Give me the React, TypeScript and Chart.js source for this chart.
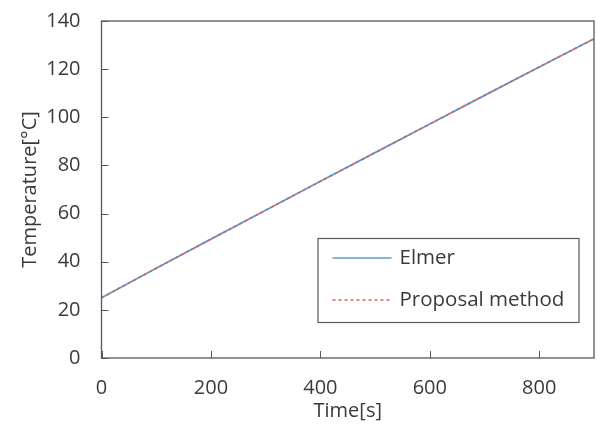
import React, { useEffect, useRef } from "react";
import { Chart, registerables } from "chart.js";

Chart.register(...registerables);

// Heating curve: time in seconds, temperature in °C
const timeSteps = [0, 100, 200, 300, 400, 500, 600, 700, 800, 900];
const elmerTemps = [25.0, 37.3, 49.4, 61.4, 73.4, 85.3, 97.2, 109.1, 120.9, 132.6];
const proposalTemps = [25.0, 37.3, 49.4, 61.4, 73.4, 85.3, 97.2, 109.1, 120.9, 132.6];
const seriesNames = ["Elmer", "Proposal method"];
const xTicks = [0, 200, 400, 600, 800];
const yTicks = [0, 20, 40, 60, 80, 100, 120, 140];

const FONT = "'Open Sans', Lato, sans-serif";
const TEXT = "#3a3a3a";
const AXIS = "#595959";

// Draws the inward tick marks, the closing frame and the boxed legend inside the plot
const frameAndLegend = {
  id: "frameAndLegend",
  afterDraw(chart: any) {
    const { ctx, chartArea: a, scales } = chart;
    ctx.save();
    ctx.strokeStyle = AXIS;
    ctx.lineWidth = 1.3;
    ctx.strokeRect(a.left, a.top, a.right - a.left, a.bottom - a.top);
    ctx.lineWidth = 1;
    ctx.beginPath();
    xTicks.forEach((v) => {
      const px = Math.round(scales.x.getPixelForValue(v)) + 0.5;
      ctx.moveTo(px, a.bottom);
      ctx.lineTo(px, a.bottom - 7);
    });
    yTicks.forEach((v) => {
      const py = Math.round(scales.y.getPixelForValue(v)) + 0.5;
      ctx.moveTo(a.left, py);
      ctx.lineTo(a.left + 7, py);
    });
    ctx.stroke();

    // legend box
    const bx = a.left + 216;
    const by = a.top + 217;
    const bw = 261;
    const bh = 84;
    ctx.fillStyle = "#ffffff";
    ctx.fillRect(bx, by, bw, bh);
    ctx.strokeStyle = AXIS;
    ctx.lineWidth = 1.2;
    ctx.strokeRect(bx + 0.5, by + 0.5, bw, bh);
    ctx.font = `20.5px ${FONT}`;
    ctx.textBaseline = "middle";
    chart.data.datasets.forEach((ds: any, i: number) => {
      const cy = by + 20 + i * 42;
      ctx.beginPath();
      ctx.strokeStyle = ds.borderColor;
      ctx.lineWidth = 1.5;
      ctx.setLineDash(ds.borderDash || []);
      ctx.moveTo(bx + 15, cy);
      ctx.lineTo(bx + 74, cy);
      ctx.stroke();
      ctx.setLineDash([]);
      ctx.fillStyle = TEXT;
      ctx.fillText(ds.label, bx + 82, cy);
    });
    ctx.restore();
  },
};

export default function App() {
  const canvasRef = useRef<HTMLCanvasElement | null>(null);

  useEffect(() => {
    if (!canvasRef.current) return;
    const chart = new Chart(canvasRef.current, {
      type: "line",
      data: {
        datasets: [
          {
            label: seriesNames[0],
            data: timeSteps.map((t, i) => ({ x: t, y: elmerTemps[i] })),
            borderColor: "#5b9bd5",
            borderWidth: 1.8,
            pointRadius: 0,
            tension: 0,
            order: 1,
          },
          {
            label: seriesNames[1],
            data: timeSteps.map((t, i) => ({ x: t, y: proposalTemps[i] })),
            borderColor: "#d9615c",
            borderWidth: 1.6,
            borderDash: [3, 3],
            pointRadius: 0,
            tension: 0,
            order: 0,
          },
        ],
      },
      options: {
        animation: false,
        responsive: true,
        maintainAspectRatio: false,
        layout: { padding: { left: 0, right: 3, top: 21, bottom: 0 } },
        plugins: { legend: { display: false }, tooltip: { enabled: false } },
        scales: {
          x: {
            type: "linear",
            min: 0,
            max: 900,
            afterBuildTicks: (s: any) => {
              s.ticks = xTicks.map((v) => ({ value: v }));
            },
            afterFit: (s: any) => {
              s.height = 73;
              s.paddingLeft = 0;
              s.paddingRight = 0;
            },
            grid: { display: false, drawTicks: false },
            border: { display: false },
            ticks: {
              color: TEXT,
              padding: 18,
              font: { family: FONT, size: 20 },
            },
            title: {
              display: true,
              text: "Time[s]",
              color: TEXT,
              font: { family: FONT, size: 20 },
              padding: { top: 0, bottom: 8 },
            },
          },
          y: {
            type: "linear",
            min: 0,
            max: 140,
            afterBuildTicks: (s: any) => {
              s.ticks = yTicks.map((v) => ({ value: v }));
            },
            afterFit: (s: any) => {
              s.width = 101.5;
              s.paddingTop = 0;
              s.paddingBottom = 0;
            },
            grid: { display: false, drawTicks: false },
            border: { display: false },
            ticks: {
              color: TEXT,
              padding: 21,
              font: { family: FONT, size: 20 },
            },
            title: {
              display: true,
              text: "Temperature[°C]",
              color: TEXT,
              font: { family: FONT, size: 20 },
              padding: { top: 18, bottom: 0 },
            },
          },
        },
      },
      plugins: [frameAndLegend],
    });
    return () => chart.destroy();
  }, []);

  return (
    <div style={{ position: "absolute", left: 0, top: 0, width: 597, height: 431, background: "#fff" }}>
      <canvas ref={canvasRef} />
    </div>
  );
}
